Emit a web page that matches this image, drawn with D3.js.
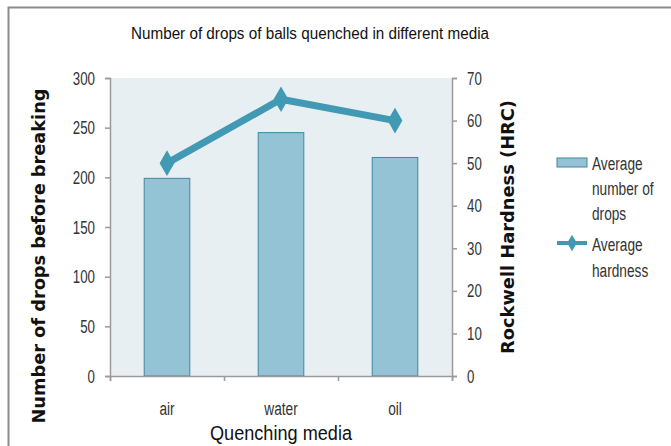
<!DOCTYPE html>
<html>
<head>
<meta charset="utf-8">
<script src="https://cdn.jsdelivr.net/npm/d3@7"></script>
<style>
  body { margin: 0; background: #fff; }
  svg text { font-family: "Liberation Sans", Arial, sans-serif; }
</style>
</head>
<body>
<div id="chart"></div>
<script>
// data
var media = ["air", "water", "oil"];
var drops = [199, 245, 220];
var hardness = [50, 65, 60];
var dropTicks = [0, 50, 100, 150, 200, 250, 300];
var hrcTicks = [0, 10, 20, 30, 40, 50, 60, 70];

var W = 671, H = 446;
var margin = {top: 78, left: 110, right: 219, bottom: 70};
var width = W - margin.left - margin.right,
    height = H - margin.top - margin.bottom;

// narrow the text horizontally around its x anchor (no condensed font installed)
function squeeze(sel, k) {
  sel.each(function () {
    var t = d3.select(this);
    var x0 = +t.attr("x") || 0;
    t.attr("transform", "translate(" + x0 + ",0) scale(" + k + ",1) translate(" + (-x0) + ",0)");
  });
}

var svg = d3.select("#chart")
  .append("svg")
    .attr("width", W)
    .attr("height", H);

// outer frame (only top and left edges show)
svg.append("path")
  .attr("d", "M8.5," + H + "V7.5H" + W)
  .attr("fill", "none")
  .attr("stroke", "#8c8c8c")
  .attr("stroke-width", 2);

svg.append("text")
  .attr("x", 310)
  .attr("y", 39)
  .attr("text-anchor", "middle")
  .attr("textLength", 358)
  .attr("lengthAdjust", "spacingAndGlyphs")
  .style("font-size", "16px")
  .style("fill", "#111")
  .text("Number of drops of balls quenched in different media");

var g = svg.append("g")
  .attr("transform", "translate(" + margin.left + "," + margin.top + ")");

g.append("rect")
  .attr("width", width)
  .attr("height", height)
  .attr("fill", "#e8eff3");

var x = d3.scaleBand()
  .domain(media)
  .range([0, width])
  .paddingInner(0.6)
  .paddingOuter(0.3);

var y = d3.scaleLinear().domain([0, 300]).range([height, 0]);
var y2 = d3.scaleLinear().domain([0, 70]).range([height, 0]);

// bars
g.selectAll(".bar")
  .data(media)
  .enter()
  .append("rect")
    .attr("class", "bar")
    .attr("x", function (d) { return x(d); })
    .attr("y", function (d, i) { return y(drops[i]); })
    .attr("width", x.bandwidth())
    .attr("height", function (d, i) { return height - y(drops[i]); })
    .attr("fill", "#93c3d5")
    .attr("stroke", "#3f87a0")
    .attr("stroke-width", 1);

// axes
var yAxis = g.append("g")
  .call(d3.axisLeft(y).tickValues(dropTicks).tickSize(5).tickPadding(10));

var yAxis2 = g.append("g")
  .attr("transform", "translate(" + width + ",0)")
  .call(d3.axisRight(y2).tickValues(hrcTicks).tickSize(5).tickPadding(10));

var xb = d3.scaleLinear().domain([0, media.length]).range([0, width]);
var xAxis = g.append("g")
  .attr("transform", "translate(0," + height + ")")
  .call(d3.axisBottom(xb).tickValues(d3.range(media.length + 1)).tickSize(5).tickFormat(""));

[yAxis, yAxis2, xAxis].forEach(function (a) {
  a.selectAll("path, line").attr("stroke", "#9a9a9a").attr("stroke-width", 1.5);
  a.selectAll("text").style("font-size", "19px").style("fill", "#333")
    .style("font-family", "'Liberation Sans', Arial, sans-serif");
  squeeze(a.selectAll("text"), 0.7);
});

var xl = g.selectAll(".xlab")
  .data(media)
  .enter()
  .append("text")
    .attr("x", function (d) { return x(d) + x.bandwidth() / 2; })
    .attr("y", height + 39)
    .attr("text-anchor", "middle")
    .style("font-size", "19px")
    .style("fill", "#333")
    .text(function (d) { return d; });
squeeze(xl, 0.72);

// hardness line
var line = d3.line()
  .x(function (d, i) { return x(media[i]) + x.bandwidth() / 2; })
  .y(function (d) { return y2(d); });

g.append("path")
  .datum(hardness)
  .attr("d", line)
  .attr("fill", "none")
  .attr("stroke", "#4199b3")
  .attr("stroke-width", 7);

g.selectAll(".pt")
  .data(hardness)
  .enter()
  .append("path")
    .attr("class", "pt")
    .attr("d", d3.symbol().type(d3.symbolDiamond).size(190))
    .attr("transform", function (d, i) {
      return "translate(" + (x(media[i]) + x.bandwidth() / 2) + "," + y2(d) + ")";
    })
    .attr("fill", "#4199b3");

// axis titles
svg.append("text")
  .attr("transform", "translate(45,256) rotate(-90)")
  .attr("text-anchor", "middle")
  .attr("textLength", 335)
  .attr("lengthAdjust", "spacingAndGlyphs")
  .style("font-family", "'DejaVu Sans', sans-serif")
  .style("font-weight", "bold")
  .style("font-size", "17px")
  .style("fill", "#111")
  .text("Number of drops before breaking");

svg.append("text")
  .attr("transform", "translate(514,227) rotate(-90)")
  .attr("text-anchor", "middle")
  .attr("textLength", 254)
  .attr("lengthAdjust", "spacingAndGlyphs")
  .style("font-family", "'DejaVu Sans', sans-serif")
  .style("font-weight", "bold")
  .style("font-size", "17px")
  .style("fill", "#111")
  .text("Rockwell Hardness (HRC)");

svg.append("text")
  .attr("x", margin.left + width / 2)
  .attr("y", 440)
  .attr("text-anchor", "middle")
  .attr("textLength", 142)
  .attr("lengthAdjust", "spacingAndGlyphs")
  .style("font-size", "20px")
  .style("fill", "#111")
  .text("Quenching media");

// legend
var leg = svg.append("g").attr("transform", "translate(557,0)");
leg.append("rect")
  .attr("x", 0).attr("y", 158).attr("width", 30).attr("height", 9)
  .attr("fill", "#93c3d5").attr("stroke", "#3f87a0");
["Average", "number of", "drops"].forEach(function (t, i) {
  squeeze(leg.append("text")
    .attr("x", 35).attr("y", 170 + i * 25)
    .style("font-size", "19px").style("fill", "#333")
    .text(t), 0.72);
});
leg.append("line")
  .attr("x1", 0).attr("x2", 30).attr("y1", 243).attr("y2", 243)
  .attr("stroke", "#4199b3").attr("stroke-width", 4);
leg.append("path")
  .attr("d", d3.symbol().type(d3.symbolDiamond).size(80))
  .attr("transform", "translate(15,243)")
  .attr("fill", "#4199b3");
["Average", "hardness"].forEach(function (t, i) {
  squeeze(leg.append("text")
    .attr("x", 35).attr("y", 251 + i * 26)
    .style("font-size", "19px").style("fill", "#333")
    .text(t), 0.72);
});
</script>
</body>
</html>
